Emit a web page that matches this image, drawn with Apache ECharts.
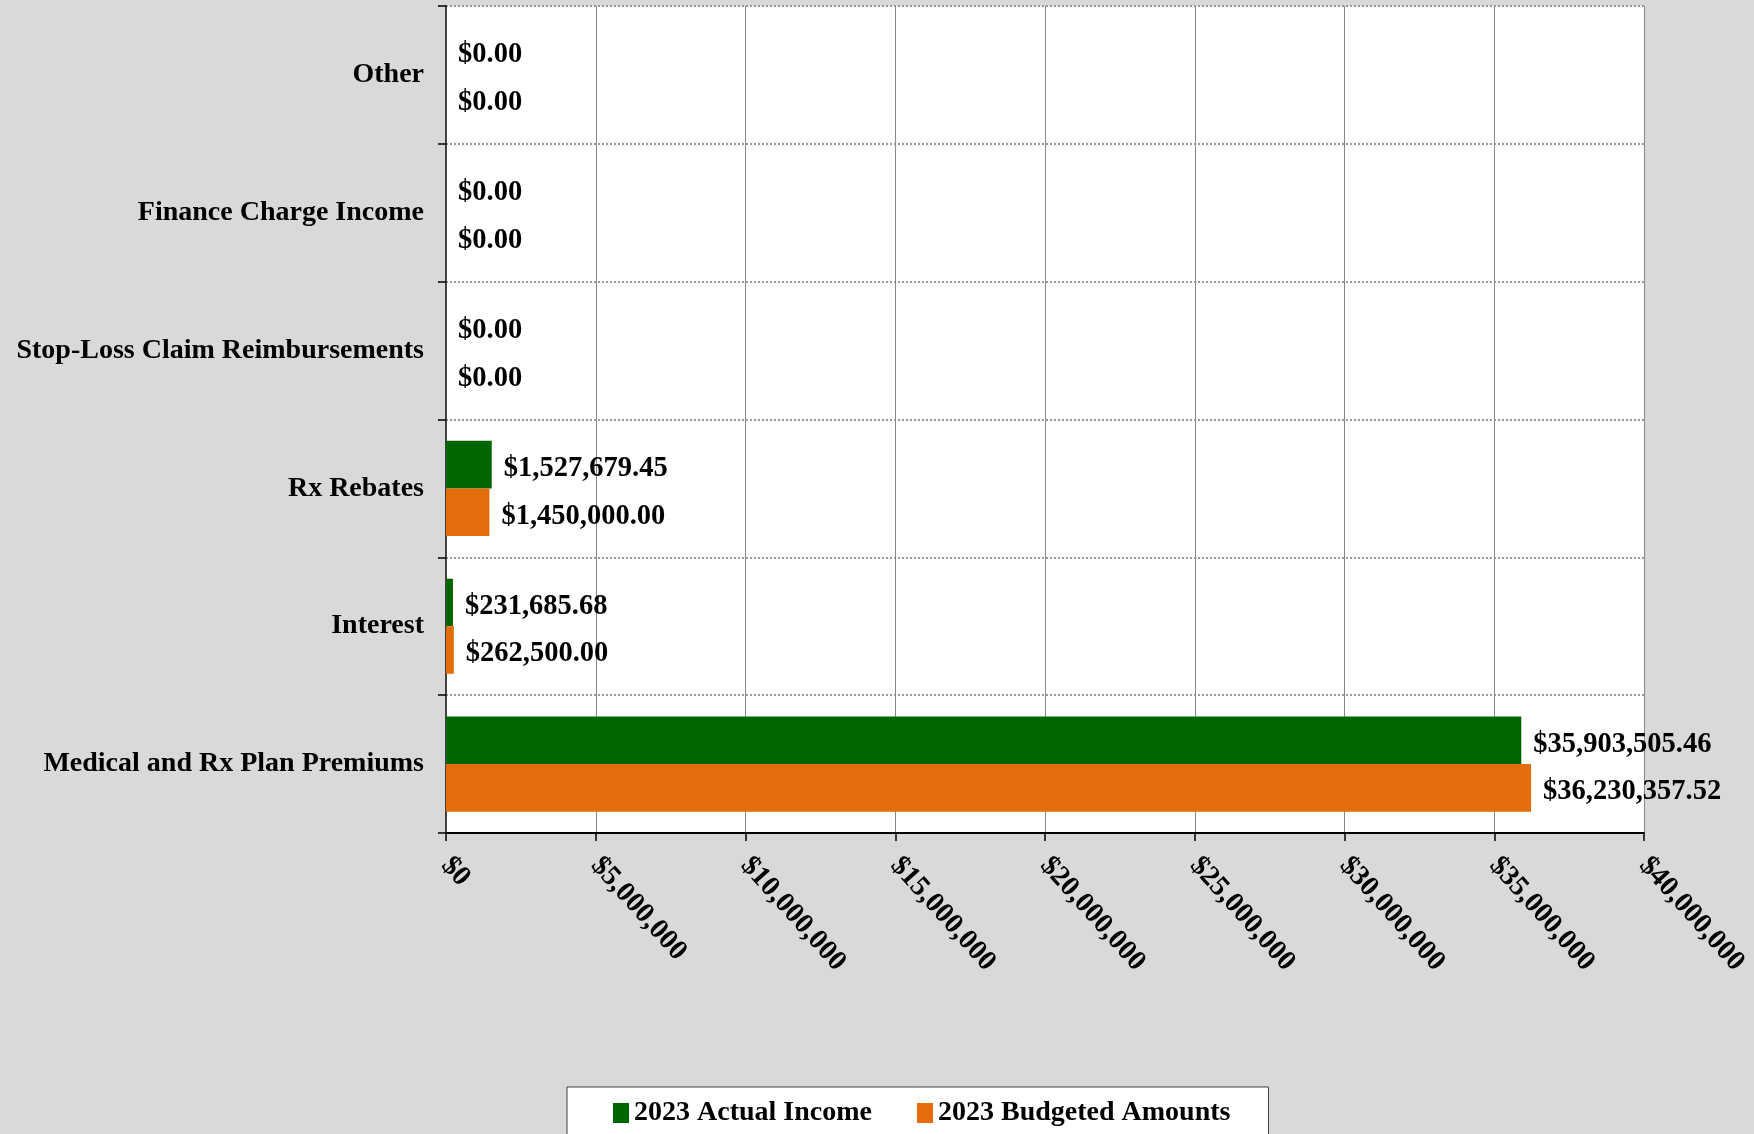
<!DOCTYPE html>
<html>
<head>
<meta charset="utf-8">
<script src="https://cdn.jsdelivr.net/npm/echarts@6/dist/echarts.min.js"></script>
<style>
  html, body { margin: 0; padding: 0; background: #d9d9d9; }
  #chart { width: 1754px; height: 1134px; }
</style>
</head>
<body>
<div id="chart"></div>
<script>
// Income categories, listed bottom to top on the vertical axis
const categories = [
  'Medical and Rx Plan Premiums',
  'Interest',
  'Rx Rebates',
  'Stop-Loss Claim Reimbursements',
  'Finance Charge Income',
  'Other'
];
const actualIncome = [35903505.46, 231685.68, 1527679.45, 0, 0, 0];
const budgetedAmounts = [36230357.52, 262500.00, 1450000.00, 0, 0, 0];
const seriesNames = ['2023 Actual Income', '2023 Budgeted Amounts'];
const axisMin = 0;
const axisMax = 40000000;
const axisStep = 5000000;

const FONT = '"Liberation Serif", "Times New Roman", serif';

function money(v, decimals) {
  return '$' + Number(v).toLocaleString('en-US', {
    minimumFractionDigits: decimals,
    maximumFractionDigits: decimals
  });
}

const labelStyle = {
  show: true,
  position: 'right',
  distance: 12,
  offset: [0, 4],
  color: '#000',
  fontFamily: FONT,
  fontWeight: 'bold',
  fontSize: 28.5,
  formatter: p => money(p.value, 2)
};

const chart = echarts.init(document.getElementById('chart'));
chart.setOption({
  backgroundColor: '#d9d9d9',
  animation: false,
  grid: {
    left: 446, right: 110, top: 6, bottom: 301,
    show: true,
    backgroundColor: '#ffffff',
    borderWidth: 0
  },
  legend: {
    data: seriesNames,
    left: 567,
    top: 1087,
    backgroundColor: '#ffffff',
    borderColor: '#404040',
    borderWidth: 1,
    padding: [12, 38, 40, 46],
    itemGap: 45,
    itemWidth: 16,
    itemHeight: 20,
    icon: 'rect',
    textStyle: { fontFamily: FONT, fontWeight: 'bold', fontSize: 28, color: '#000' }
  },
  xAxis: {
    type: 'value',
    min: axisMin,
    max: axisMax,
    interval: axisStep,
    axisLine: { show: true, lineStyle: { color: '#000', width: 2 } },
    axisTick: { show: true, length: 8, lineStyle: { color: '#000', width: 1.5 } },
    splitLine: { show: true, lineStyle: { color: '#888', width: 1 } },
    axisLabel: {
      rotate: -48,
      margin: 28,
      color: '#000',
      fontFamily: FONT,
      fontWeight: 'bold',
      fontSize: 28.5,
      formatter: v => money(v, 0)
    }
  },
  yAxis: {
    type: 'category',
    data: categories,
    axisLine: { show: true, lineStyle: { color: '#404040', width: 2 } },
    axisTick: { show: true, length: 8, lineStyle: { color: '#000', width: 1.5 } },
    splitLine: { show: true, lineStyle: { color: '#999', type: 'dotted', width: 2 } },
    axisLabel: {
      margin: 22,
      padding: [5, 0, 0, 0],
      color: '#000',
      fontFamily: FONT,
      fontWeight: 'bold',
      fontSize: 28
    }
  },
  series: [
    {
      name: seriesNames[0],
      type: 'bar',
      data: actualIncome,
      barGap: '0%',
      barCategoryGap: '31%',
      itemStyle: { color: '#006600' },
      label: labelStyle
    },
    {
      name: seriesNames[1],
      type: 'bar',
      data: budgetedAmounts,
      barGap: '0%',
      barCategoryGap: '31%',
      itemStyle: { color: '#e46c0a' },
      label: labelStyle
    }
  ]
});
</script>
</body>
</html>
